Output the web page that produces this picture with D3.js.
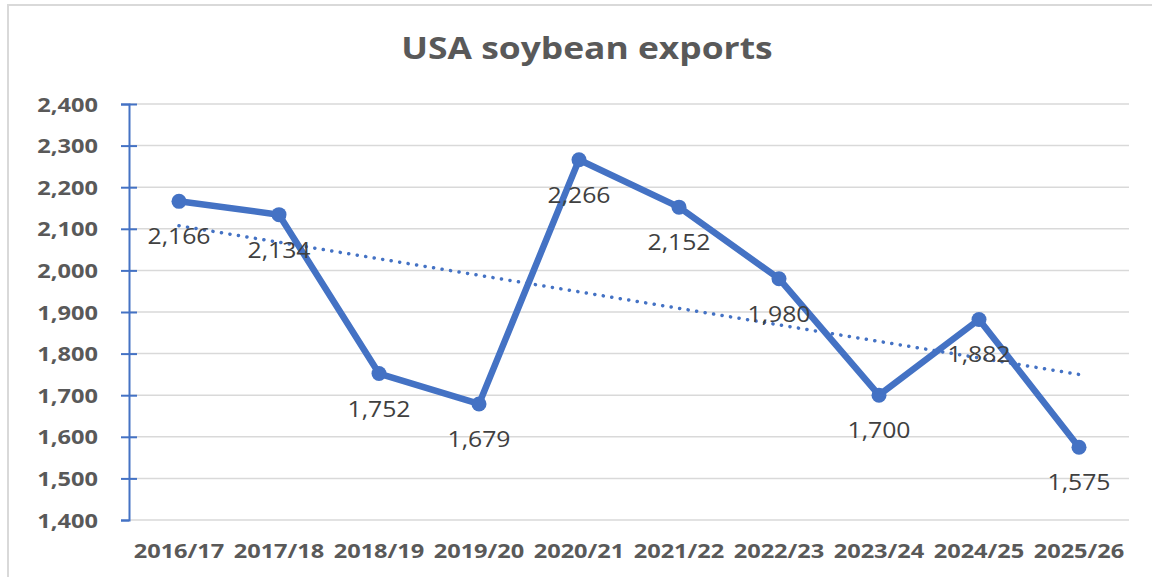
<!DOCTYPE html>
<html>
<head>
    <meta charset="utf-8">
    <title>USA soybean exports</title>
    <style type="text/css">
        body {
            margin: 0;
            background-color: #fff;
        }

        text {
            font-family: "Open Sans", sans-serif;
        }

        .axis text {
            font-weight: bold;
            font-size: 20px;
            fill: #595959;
        }
    </style>
</head>
<body>
<script src="https://cdn.jsdelivr.net/npm/d3@7"></script>
<script type="text/javascript">
    // 数据
    var seasons = ["2016/17", "2017/18", "2018/19", "2019/20", "2020/21",
        "2021/22", "2022/23", "2023/24", "2024/25", "2025/26"];
    var exports = [2166, 2134, 1752, 1679, 2266, 2152, 1980, 1700, 1882, 1575];
    var yTicks = [1400, 1500, 1600, 1700, 1800, 1900, 2000, 2100, 2200, 2300, 2400];

    var width = 1152, height = 577;
    var margin = {top: 104, right: 23, bottom: 57, left: 129};
    var sx = 1.18; // 文字横向拉伸

    var svg = d3.select("body")
        .append("svg")
        .attr("width", width)
        .attr("height", height);

    // 把文字横向拉伸
    function stretch(sel, px, py) {
        sel.attr("transform", function () {
            return "translate(" + px + "," + py + ") scale(" + sx + ",1)";
        }).attr("x", 0).attr("y", 0);
    }

    // 外框
    svg.append("rect")
        .attr("x", 8).attr("y", 5)
        .attr("width", width + 10).attr("height", height + 10)
        .attr("fill", "none")
        .attr("stroke", "#d9d9d9")
        .attr("stroke-width", 2);

    // 标题
    svg.append("text")
        .attr("text-anchor", "middle")
        .style("font-weight", "bold")
        .style("font-size", "30px")
        .style("fill", "#595959")
        .text("USA soybean exports")
        .call(stretch, 587, 59);

    var x = d3.scaleBand()
        .domain(seasons)
        .range([margin.left, width - margin.right]);

    var y = d3.scaleLinear()
        .domain([1400, 2400])
        .range([height - margin.bottom, margin.top]);

    // 网格线
    svg.append("g")
        .selectAll("line")
        .data(yTicks)
        .enter()
        .append("line")
        .attr("x1", margin.left)
        .attr("x2", width - margin.right)
        .attr("y1", function (d) { return y(d); })
        .attr("y2", function (d) { return y(d); })
        .attr("stroke", "#d9d9d9")
        .attr("stroke-width", 1.5);

    // y轴
    var yAxis = svg.append("g")
        .attr("class", "axis")
        .attr("transform", "translate(" + margin.left + ",0)")
        .call(d3.axisLeft(y).tickValues(yTicks).tickSize(8)
            .tickFormat(d3.format(",")));
    yAxis.select(".domain").attr("stroke", "#4472c4").attr("stroke-width", 2);
    yAxis.selectAll(".tick line")
        .attr("stroke", "#4472c4").attr("stroke-width", 2)
        .attr("x2", -8).attr("x1", function (d) { return d === 1400 ? 0 : 8; });
    yAxis.selectAll(".tick text")
        .attr("dy", null)
        .call(stretch, -31, 7);

    // x轴
    var xAxis = svg.append("g")
        .attr("class", "axis")
        .attr("transform", "translate(0," + (height - margin.bottom) + ")")
        .call(d3.axisBottom(x).tickSize(0));
    xAxis.select(".domain").remove();
    xAxis.selectAll(".tick text")
        .attr("dy", null)
        .call(stretch, 0, 38);

    var cx = function (d, i) { return x(seasons[i]) + x.bandwidth() / 2; };

    // 趋势线(线性回归)
    var n = exports.length;
    var mx = d3.mean(exports, function (d, i) { return i; });
    var my = d3.mean(exports);
    var sxy = d3.sum(exports, function (d, i) { return (i - mx) * (d - my); });
    var sxx = d3.sum(exports, function (d, i) { return (i - mx) * (i - mx); });
    var slope = sxy / sxx;
    var trend = [0, n - 1].map(function (i) {
        return [x(seasons[i]) + x.bandwidth() / 2, y(my + slope * (i - mx))];
    });
    svg.append("path")
        .attr("d", d3.line()(trend))
        .attr("fill", "none")
        .attr("stroke", "#4472c4")
        .attr("stroke-width", 3.5)
        .attr("stroke-linecap", "round")
        .attr("stroke-dasharray", "0.1 8.5");

    // 折线
    var line = d3.line()
        .x(cx)
        .y(function (d) { return y(d); });
    svg.append("path")
        .datum(exports)
        .attr("d", line)
        .attr("fill", "none")
        .attr("stroke", "#4472c4")
        .attr("stroke-width", 6.5)
        .attr("stroke-linejoin", "round");

    svg.selectAll("circle")
        .data(exports)
        .enter()
        .append("circle")
        .attr("cx", cx)
        .attr("cy", function (d) { return y(d); })
        .attr("r", 7.5)
        .attr("fill", "#4472c4");

    // 数据标签
    svg.selectAll(".label")
        .data(exports)
        .enter()
        .append("text")
        .attr("class", "label")
        .attr("text-anchor", "middle")
        .style("font-size", "21px")
        .style("fill", "#404040")
        .text(d3.format(","))
        .each(function (d, i) {
            d3.select(this).call(stretch, cx(d, i), y(d) + 43);
        });
</script>
</body>
</html>
